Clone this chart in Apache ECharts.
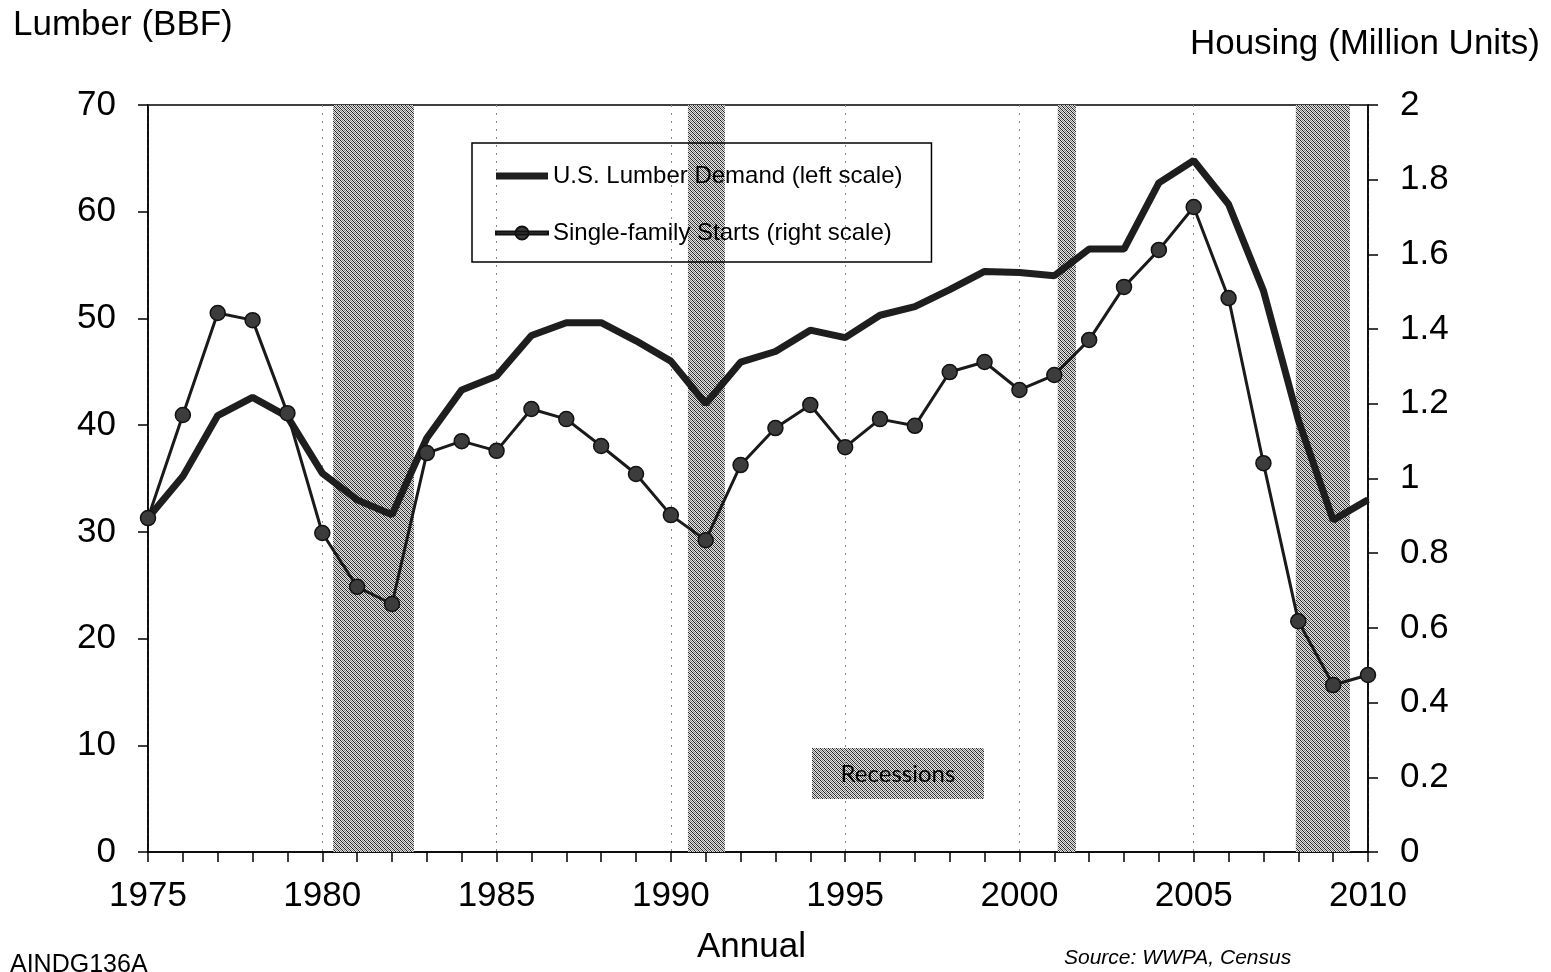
<!DOCTYPE html>
<html>
<head>
<meta charset="utf-8">
<title>Lumber demand vs single-family starts</title>
<script src="https://cdn.jsdelivr.net/npm/echarts@6.0.0/dist/echarts.min.js"></script>
<style>
  html, body { margin: 0; padding: 0; background: #fff; }
  #chart { width: 1551px; height: 972px; }
</style>
</head>
<body>
<div id="chart"></div>
<script>
"use strict";

const years = [
  1975, 1976, 1977, 1978, 1979, 1980, 1981, 1982, 1983, 1984, 1985, 1986,
  1987, 1988, 1989, 1990, 1991, 1992, 1993, 1994, 1995, 1996, 1997, 1998,
  1999, 2000, 2001, 2002, 2003, 2004, 2005, 2006, 2007, 2008, 2009, 2010,
];

// U.S. lumber demand, billion board feet (left scale)
const lumberDemand = [
  31.3, 35.2, 40.9, 42.6, 40.8, 35.5, 33.0, 31.6, 38.8, 43.3, 44.6, 48.4,
  49.6, 49.6, 47.9, 46.0, 42.0, 45.9, 46.9, 48.9, 48.2, 50.3, 51.1, 52.7,
  54.4, 54.3, 54.0, 56.5, 56.5, 62.7, 64.8, 60.7, 52.6, 40.5, 31.1, 33.0,
];

// single-family housing starts, million units (right scale)
const singleFamilyStarts = [
  0.894, 1.17, 1.443, 1.424, 1.175, 0.854, 0.71, 0.664, 1.068, 1.10, 1.074, 1.186,
  1.159, 1.087, 1.012, 0.902, 0.835, 1.036, 1.135, 1.197, 1.084, 1.159, 1.141, 1.285,
  1.312, 1.237, 1.277, 1.371, 1.513, 1.612, 1.727, 1.483, 1.041, 0.618, 0.447, 0.474,
];

// recession periods, [start, end] in fractional years
const recessions = [
  [1980.31, 1982.63],
  [1990.49, 1991.55],
  [2001.10, 2001.62],
  [2007.93, 2009.48],
];

const LUMBER = "U.S. Lumber Demand (left scale)";
const STARTS = "Single-family Starts (right scale)";
const FONT = "'Liberation Sans', Arial, sans-serif";

// dithered grey fill like the scanned print
function hatchPattern() {
  const c = document.createElement("canvas");
  c.width = 4; c.height = 4;
  const g = c.getContext("2d");
  const col = { D: "#1e1e1e", L: "#e4e4e4", G: "#808080" };
  const tile = ["DLGL", "LDLG", "GLDL", "LGLD"];
  tile.forEach((row, y) => {
    [...row].forEach((k, x) => {
      g.fillStyle = col[k];
      g.fillRect(x, y, 1, 1);
    });
  });
  return { image: c, repeat: "repeat" };
}
const HATCH = hatchPattern();

// legend glyphs: the leading M points fix the 52x14 box so the strokes keep their thickness
const ICON_THICK = "path://M0,0 M52,14 M0,3.5 L52,3.5 L52,10.5 L0,10.5 Z";
const ICON_MARKER = "path://M0,0 M52,14 M0,5.5 L52,5.5 L52,8.5 L0,8.5 Z " +
  "M32.5,7 A6.5,6.5 0 1,1 19.5,7 A6.5,6.5 0 1,1 32.5,7 Z";

const chart = echarts.init(document.getElementById("chart"), null, { renderer: "canvas" });

const tickLine = { color: "#000", width: 1.5 };

const option = {
  backgroundColor: "#fff",
  animation: false,
  textStyle: { fontFamily: FONT, color: "#000" },
  grid: {
    left: 148, right: 183, top: 105, bottom: 120,
    show: true, borderColor: "#000", borderWidth: 1.5, backgroundColor: "transparent",
  },
  legend: {
    data: [
      { name: LUMBER, icon: ICON_THICK },
      { name: STARTS, icon: ICON_MARKER },
    ],
    orient: "vertical",
    left: 472, top: 143,
    padding: [21, 29, 17, 23],
    itemGap: 33,
    itemWidth: 52,
    itemHeight: 14,
    itemTextGap: 5,
    borderColor: "#000",
    borderWidth: 1.5,
    backgroundColor: "transparent",
    textStyle: { fontFamily: FONT, fontSize: 24, lineHeight: 24, color: "#000" },
  },
  xAxis: {
    type: "value",
    min: 1975, max: 2010, interval: 5,
    axisLine: { show: true, lineStyle: tickLine },
    axisTick: { show: true, length: 10, lineStyle: tickLine },
    minorTick: { show: true, splitNumber: 5, length: 10, lineStyle: tickLine },
    axisLabel: { fontSize: 35, margin: 27, color: "#000", fontFamily: FONT, formatter: (v) => String(v) },
    splitLine: { show: true, lineStyle: { color: "#8a8a8a", type: [2, 6], width: 1 } },
  },
  yAxis: [
    {
      type: "value",
      min: 0, max: 70, interval: 10,
      position: "left",
      axisLine: { show: true, lineStyle: tickLine },
      axisTick: { show: true, length: 10, lineStyle: tickLine },
      axisLabel: { fontSize: 35, margin: 32, color: "#000", fontFamily: FONT },
      splitLine: { show: false },
    },
    {
      type: "value",
      min: 0, max: 2, interval: 0.2,
      position: "right",
      axisLine: { show: true, lineStyle: tickLine },
      axisTick: { show: true, length: 10, lineStyle: tickLine },
      axisLabel: {
        fontSize: 35, margin: 32, color: "#000", fontFamily: FONT,
        formatter: (v) => String(Number(v.toFixed(1))),
      },
      splitLine: { show: false },
    },
  ],
  series: [
    {
      name: "Recessions",
      type: "custom",
      z: 1,
      silent: true,
      encode: { x: [0, 1] },
      data: recessions,
      renderItem: (params, api) => {
        const p0 = api.coord([api.value(0), 70]);
        const p1 = api.coord([api.value(1), 0]);
        return {
          type: "rect",
          shape: { x: p0[0], y: p0[1], width: p1[0] - p0[0], height: p1[1] - p0[1] },
          style: { fill: HATCH },
        };
      },
    },
    {
      name: LUMBER,
      type: "line",
      yAxisIndex: 0,
      z: 3,
      symbol: "none",
      lineStyle: { color: "#1e1e1e", width: 7 },
      itemStyle: { color: "#1e1e1e" },
      data: years.map((y, i) => [y, lumberDemand[i]]),
    },
    {
      name: STARTS,
      type: "line",
      yAxisIndex: 1,
      z: 4,
      symbol: "circle",
      symbolSize: 15,
      lineStyle: { color: "#1a1a1a", width: 3 },
      itemStyle: { color: "#3c3c3c", borderColor: "#111", borderWidth: 1.5 },
      data: years.map((y, i) => [y, singleFamilyStarts[i]]),
    },
  ],
  graphic: [
    {
      type: "text", left: 13, top: 8,
      style: { text: "Lumber (BBF)", font: "35px " + FONT, fill: "#000" },
    },
    {
      type: "text", right: 11, top: 27,
      style: { text: "Housing (Million Units)", font: "35px " + FONT, fill: "#000" },
    },
    {
      type: "text", left: 697, top: 930,
      style: { text: "Annual", font: "35px " + FONT, fill: "#000" },
    },
    {
      type: "text", left: 10, top: 953,
      style: { text: "AINDG136A", font: "25px " + FONT, fill: "#000" },
    },
    {
      type: "text", left: 1064, top: 948,
      style: { text: "Source: WWPA, Census", font: "italic 21px " + FONT, fill: "#000" },
    },
    {
      type: "group", left: 812, top: 748,
      children: [
        { type: "rect", shape: { x: 0, y: 0, width: 172, height: 51 }, style: { fill: HATCH } },
        {
          type: "text", x: 86, y: 26,
          style: {
            text: "Recessions", font: "24px Lato, " + FONT, fill: "#000",
            align: "center", verticalAlign: "middle",
          },
        },
      ],
    },
  ],
};

chart.setOption(option);
</script>
</body>
</html>
